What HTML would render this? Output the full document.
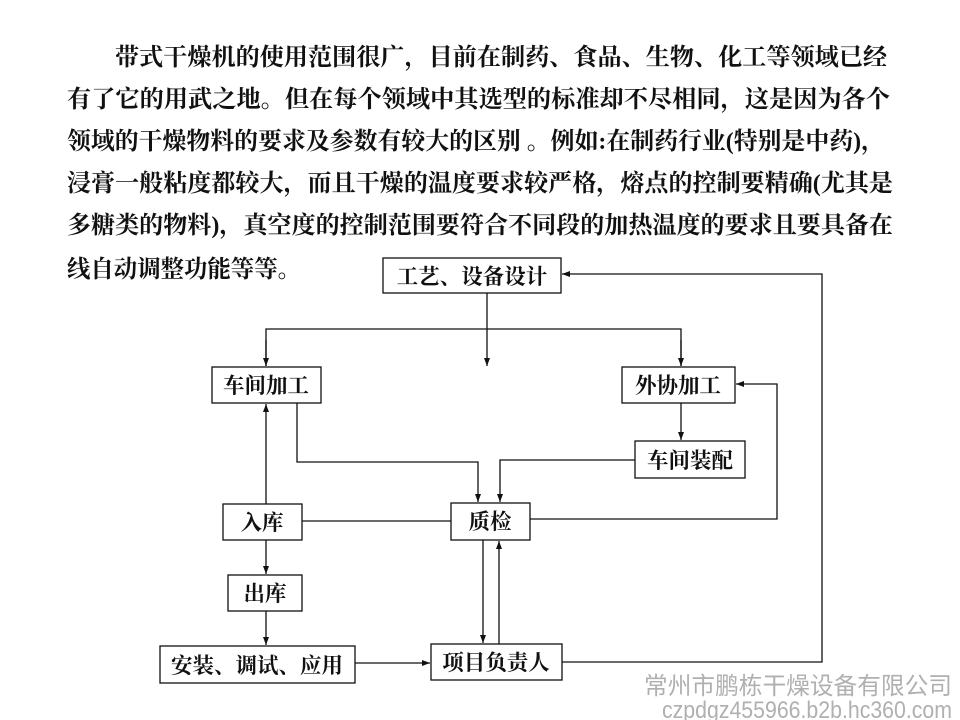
<!DOCTYPE html>
<html><head><meta charset="utf-8"><style>
html,body{margin:0;padding:0;background:#fff;}
svg{display:block}
.p{font-family:"Liberation Serif","Noto Serif CJK SC",serif;font-size:24px;font-weight:bold;fill:#111;}
.b{font-family:"Liberation Serif","Noto Serif CJK SC",serif;font-size:21.5px;font-weight:bold;fill:#111;}
.w{font-family:"Liberation Sans","Noto Sans CJK SC",sans-serif;font-size:24px;fill:#b0b0b0;}
</style></head><body>
<svg width="960" height="720" viewBox="0 0 960 720" xmlns="http://www.w3.org/2000/svg">
<defs><marker id="a" markerWidth="8" markerHeight="8" refX="8" refY="4" orient="auto" markerUnits="userSpaceOnUse"><path d="M0,1 L8,4 L0,7 z" fill="#111"/></marker></defs>
<text class="p" x="115" y="65" textLength="772" lengthAdjust="spacingAndGlyphs">带式干燥机的使用范围很广，目前在制药、食品、生物、化工等领域已经</text>
<text class="p" x="67" y="107" textLength="823" lengthAdjust="spacingAndGlyphs">有了它的用武之地。但在每个领域中其选型的标准却不尽相同，这是因为各个</text>
<text class="p" x="67" y="149" textLength="818" lengthAdjust="spacingAndGlyphs">领域的干燥物料的要求及参数有较大的区别 。例如:在制药行业(特别是中药)，</text>
<text class="p" x="67" y="191" textLength="826" lengthAdjust="spacingAndGlyphs">浸膏一般粘度都较大，而且干燥的温度要求较严格，熔点的控制要精确(尤其是</text>
<text class="p" x="67" y="233" textLength="826" lengthAdjust="spacingAndGlyphs">多糖类的物料)，真空度的控制范围要符合不同段的加热温度的要求且要具备在</text>
<text class="p" x="67" y="277" textLength="234" lengthAdjust="spacingAndGlyphs">线自动调整功能等等。</text>
<g fill="none" stroke="#111" stroke-width="1.3">
<rect x="383" y="258" width="178" height="35"/>
<rect x="212" y="367" width="109" height="36"/>
<rect x="622" y="367" width="113" height="36"/>
<rect x="635" y="441" width="110" height="37"/>
<rect x="223" y="504" width="79" height="36"/>
<rect x="451" y="503" width="79" height="37"/>
<rect x="228" y="575" width="74" height="36"/>
<rect x="160" y="646" width="195" height="37"/>
<rect x="431" y="644" width="131" height="36"/>
<line x1="487" y1="293" x2="487" y2="366" marker-end="url(#a)"/>
<polyline points="266,366 266,329 681,329 681,366" />
<line x1="266" y1="340" x2="266" y2="366" marker-end="url(#a)"/>
<line x1="681" y1="340" x2="681" y2="366" marker-end="url(#a)"/>
<polyline points="562,662 822,662 822,274 562,274" marker-end="url(#a)"/>
<polyline points="530,519 777,519 777,384 736,384" marker-end="url(#a)"/>
<line x1="681" y1="403" x2="681" y2="440" marker-end="url(#a)"/>
<polyline points="297,403 297,462 478,462 478,502" marker-end="url(#a)"/>
<polyline points="635,460 500,460 500,502" marker-end="url(#a)"/>
<line x1="302" y1="521" x2="451" y2="521"/>
<line x1="266" y1="504" x2="266" y2="404" marker-end="url(#a)"/>
<line x1="266" y1="540" x2="266" y2="574" marker-end="url(#a)"/>
<line x1="266" y1="611" x2="266" y2="645" marker-end="url(#a)"/>
<line x1="355" y1="663" x2="430" y2="663" marker-end="url(#a)"/>
<line x1="483" y1="540" x2="483" y2="643" marker-end="url(#a)"/>
<line x1="499" y1="644" x2="499" y2="541" marker-end="url(#a)"/>
</g>
<g class="b" text-anchor="middle">
<text x="472" y="284">工艺、设备设计</text>
<text x="266" y="393">车间加工</text>
<text x="678" y="393">外协加工</text>
<text x="690" y="468">车间装配</text>
<text x="262" y="530">入库</text>
<text x="490" y="529">质检</text>
<text x="265" y="601">出库</text>
<text x="257" y="673">安装、调试、应用</text>
<text x="496" y="670">项目负责人</text>
</g>
<text class="w" x="952" y="694" text-anchor="end" textLength="308" lengthAdjust="spacingAndGlyphs">常州市鹏栋干燥设备有限公司</text>
<text class="w" x="952" y="718" text-anchor="end" font-size="22" textLength="290" lengthAdjust="spacingAndGlyphs">czpdgz455966.b2b.hc360.com</text>
</svg>
</body></html>
